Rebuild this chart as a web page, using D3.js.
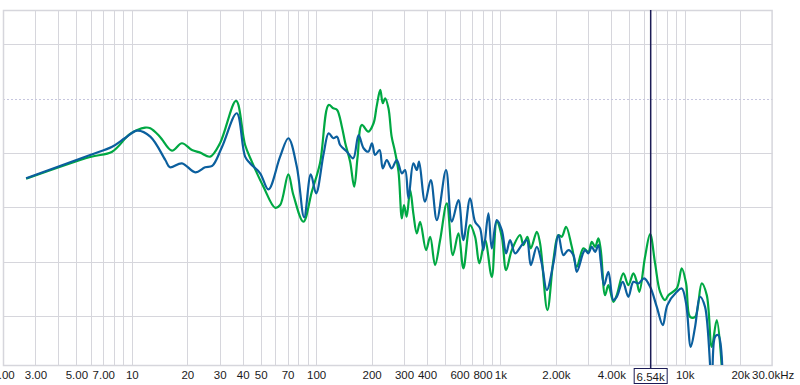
<!DOCTYPE html>
<html>
<head>
<meta charset="utf-8">
<script src="https://cdn.jsdelivr.net/npm/d3@7"></script>
<style>
  body { margin: 0; background: #fff; }
  svg { display: block; }
  .tick text { font-family: "Liberation Sans", Arial, sans-serif; font-size: 11.5px; fill: #1a1a1a; }
</style>
</head>
<body>
<div id="chart"></div>
<script>
var width = 800,
    height = 385;

// green trace: frequency (Hz) and level (dB)
var greenFreq = [2.67, 5.94, 7.82, 9.79, 11.8, 12.6, 14.2, 16.5, 18.7, 21.2, 23.5, 26.6, 30.1, 36.8, 41.2, 44.8, 51.8, 59.9, 63.8, 70.7,
  75.3, 85.3, 94.8, 105, 117, 124, 130, 138, 144, 153, 161, 168, 177, 192, 205, 213, 223, 230, 237, 247,
  257, 268, 280, 292, 300, 310, 324, 337, 352, 367, 395, 416, 442, 471, 512, 552, 592, 630, 685, 729,
  769, 826, 898, 956, 1018, 1074, 1153, 1279, 1333, 1401, 1462, 1576, 1642, 1799, 1939, 2064, 2153, 2273, 2441, 2597,
  2820, 3003, 3132, 3265, 3402, 3506, 3700, 3855, 4104, 4282, 4650, 4948, 5268, 5498, 5679, 6097, 6494, 6909, 7355, 7830,
  8155, 9060, 9643, 10180, 10700, 11390, 12380, 13180, 14030, 14930, 16090];
var greenDb = [-14.75, -10.74, -9.76, -6.5, -5.34, -5.45, -7.0, -9.58, -8.21, -9.45, -9.94, -10.68, -8.21, -0.42, -8.53, -11.6, -16.21, -20.07, -19.58, -13.92,
  -17.73, -22.65, -17.13, -11.9, -1.16, -1.77, -2.08, -5.16, -8.21, -11.6, -16.21, -10.68, -4.84, -6.08, -4.53, -1.47, 1.6, -0.85, 0.07, -1.77,
  -7.0, -9.76, -13.44, -22.03, -19.58, -21.73, -16.81, -21.1, -24.79, -22.65, -27.86, -25.41, -30.63, -26.02, -19.26, -28.78, -24.79, -31.23, -23.26, -25.41,
  -30.31, -26.02, -32.78, -22.65, -25.41, -31.55, -27.86, -25.1, -26.94, -25.41, -27.55, -24.49, -26.63, -38.91, -29.71, -25.1, -25.41, -23.57, -27.26, -30.94,
  -27.55, -28.18, -26.34, -27.26, -25.71, -27.86, -36.15, -34.31, -37.38, -36.15, -32.15, -34.31, -32.15, -33.7, -35.54, -29.1, -24.92, -30.31, -35.54, -37.07,
  -36.15, -34.92, -31.23, -34.0, -40.15, -40.15, -34.0, -36.15, -45.67, -40.76, -52];

// blue trace
var blueFreq = [2.67, 5.94, 7.82, 9.2, 10.7, 12.6, 15.2, 16.1, 18.7, 22.1, 25.0, 27.3, 30.9, 37.1, 41.2, 43.8, 49.7, 55.1, 63.8, 70.7,
  78.6, 86.1, 93.6, 100, 110, 117, 124, 130, 135, 147, 159, 170, 181, 192, 201, 209, 221, 230, 242, 257,
  274, 292, 304, 317, 337, 352, 362, 390, 419, 452, 507, 545, 592, 630, 685, 729, 776, 809, 861, 898,
  956, 1018, 1074, 1129, 1202, 1307, 1391, 1462, 1576, 1677, 1786, 1939, 2064, 2197, 2339, 2490, 2597, 2810, 2881, 3003,
  3132, 3265, 3402, 3506, 3654, 3855, 4104, 4282, 4615, 4948, 5268, 5609, 6022, 6494, 7058, 7607, 8055, 9060, 9643, 10180,
  10790, 11390, 12120, 12900, 14030, 14620, 15230, 16090];
var blueDb = [-14.66, -10.37, -8.84, -7.24, -5.89, -7.0, -11.29, -12.63, -11.9, -13.55, -12.63, -12.39, -8.84, -2.69, -10.68, -11.9, -13.74, -16.69, -10.68, -7.29,
  -12.52, -21.84, -13.92, -17.42, -10.06, -6.37, -7.29, -7.0, -8.53, -9.76, -10.98, -6.69, -9.13, -9.76, -8.21, -10.37, -9.45, -12.82, -11.29, -12.82,
  -11.29, -13.74, -13.13, -18.34, -11.9, -13.13, -11.6, -18.97, -14.97, -22.34, -13.13, -22.65, -18.66, -26.02, -18.34, -22.65, -23.87, -27.86, -21.1, -27.55,
  -22.34, -24.18, -28.47, -26.02, -28.47, -26.94, -26.02, -30.63, -27.26, -30.31, -35.23, -30.31, -25.1, -28.78, -27.86, -28.78, -31.86, -28.42, -27.86, -28.47,
  -27.26, -28.18, -26.94, -30.02, -34.31, -31.86, -37.07, -36.46, -33.7, -36.46, -33.7, -34.0, -33.08, -34.62, -38.31, -41.68, -37.99, -35.54, -34.92, -37.68,
  -45.67, -41.99, -36.46, -38.31, -52, -43.83, -43.52, -52];

// x axis labels
var tickFreqs = [2, 3, 5, 7, 10, 20, 30, 40, 50, 70, 100, 200, 300, 400, 600, 800, 1000, 2000, 4000, 10000, 20000, 30000];
var tickLabels = ["2.00", "3.00", "5.00", "7.00", "10", "20", "30", "40", "50", "70", "100", "200", "300", "400", "600", "800", "1k", "2.00k", "4.00k", "10k", "20k", "30.0kHz"];

// horizontal grid (dB) and cursor
var gridDb = [10, 0, -10, -20, -30, -40];
var cursorFreq = 6540;
var cursorLabel = "6.54k";

var svg = d3.select("#chart")
    .append("svg")
    .attr("width", width)
    .attr("height", height);

var plotLeft = 3, plotRight = 772.6, plotTop = 10, plotBottom = 365;

var x = d3.scaleLog()
    .domain([2, 30000])
    .range([plotLeft, plotRight]);

var y = d3.scaleLinear()
    .domain([-49, 16.3])
    .range([plotBottom, plotTop]);

// vertical grid: every 1..9 step per decade
var vGrid = [];
[1, 10, 100, 1000, 10000].forEach(function(dec) {
  for (var m = 1; m <= 9; m++) {
    var f = m * dec;
    if (f > 2 && f < 30000) vGrid.push(f);
  }
});

svg.append("g")
  .selectAll("line")
  .data(vGrid)
  .enter().append("line")
    .attr("x1", function(d) { return Math.round(x(d)) + 0.5; })
    .attr("x2", function(d) { return Math.round(x(d)) + 0.5; })
    .attr("y1", plotTop)
    .attr("y2", plotBottom)
    .attr("stroke", "#d6d6dc")
    .attr("stroke-width", 1);

svg.append("g")
  .selectAll("line")
  .data(gridDb)
  .enter().append("line")
    .attr("x1", plotLeft)
    .attr("x2", plotRight)
    .attr("y1", function(d) { return Math.round(y(d)) + 0.5; })
    .attr("y2", function(d) { return Math.round(y(d)) + 0.5; })
    .attr("stroke", function(d) { return d === 0 ? "#c6c6de" : "#d6d6dc"; })
    .attr("stroke-dasharray", function(d) { return d === 0 ? "2,2" : null; })
    .attr("stroke-width", 1);

// frame
svg.append("rect")
    .attr("x", plotLeft + 0.5)
    .attr("y", plotTop + 0.5)
    .attr("width", plotRight - plotLeft - 1)
    .attr("height", plotBottom - plotTop)
    .attr("fill", "none")
    .attr("stroke", "#d6d6dc")
    .attr("stroke-width", 1.5);

svg.append("clipPath")
    .attr("id", "plotClip")
  .append("rect")
    .attr("x", plotLeft)
    .attr("y", plotTop)
    .attr("width", plotRight - plotLeft)
    .attr("height", plotBottom - plotTop);

var line = d3.line()
    .x(function(d) { return x(d[0]); })
    .y(function(d) { return y(d[1]); })
    .curve(d3.curveCatmullRom.alpha(0.5));

var greenData = greenFreq.map(function(f, i) { return [f, greenDb[i]]; });
var blueData = blueFreq.map(function(f, i) { return [f, blueDb[i]]; });

var curves = svg.append("g").attr("clip-path", "url(#plotClip)");

curves.append("path")
    .datum(greenData)
    .attr("d", line)
    .attr("fill", "none")
    .attr("stroke", "#00a843")
    .attr("stroke-width", 2.2);

curves.append("path")
    .datum(blueData)
    .attr("d", line)
    .attr("fill", "none")
    .attr("stroke", "#0b5f9e")
    .attr("stroke-width", 2.2);

// cursor
svg.append("line")
    .attr("x1", x(cursorFreq))
    .attr("x2", x(cursorFreq))
    .attr("y1", plotTop)
    .attr("y2", 368)
    .attr("stroke", "#1b1b55")
    .attr("stroke-width", 1.5);

// x axis labels
var axis = d3.axisBottom(x)
    .tickValues(tickFreqs)
    .tickSize(0)
    .tickPadding(0)
    .tickFormat(function(d, i) { return tickLabels[i]; });

svg.append("g")
    .attr("transform", "translate(0,371)")
    .call(axis)
    .call(function(g) { g.select(".domain").remove(); });

var cx = x(cursorFreq);
svg.append("rect")
    .attr("x", cx - 16.5)
    .attr("y", 368.5)
    .attr("width", 33)
    .attr("height", 15)
    .attr("fill", "#fff")
    .attr("stroke", "#1b1b55")
    .attr("stroke-width", 1);

svg.append("text")
    .attr("x", cx)
    .attr("y", 380.5)
    .attr("text-anchor", "middle")
    .style("font-family", "Liberation Sans, Arial, sans-serif")
    .style("font-size", "11.5px")
    .style("fill", "#1a1a1a")
    .text(cursorLabel);
</script>
</body>
</html>
